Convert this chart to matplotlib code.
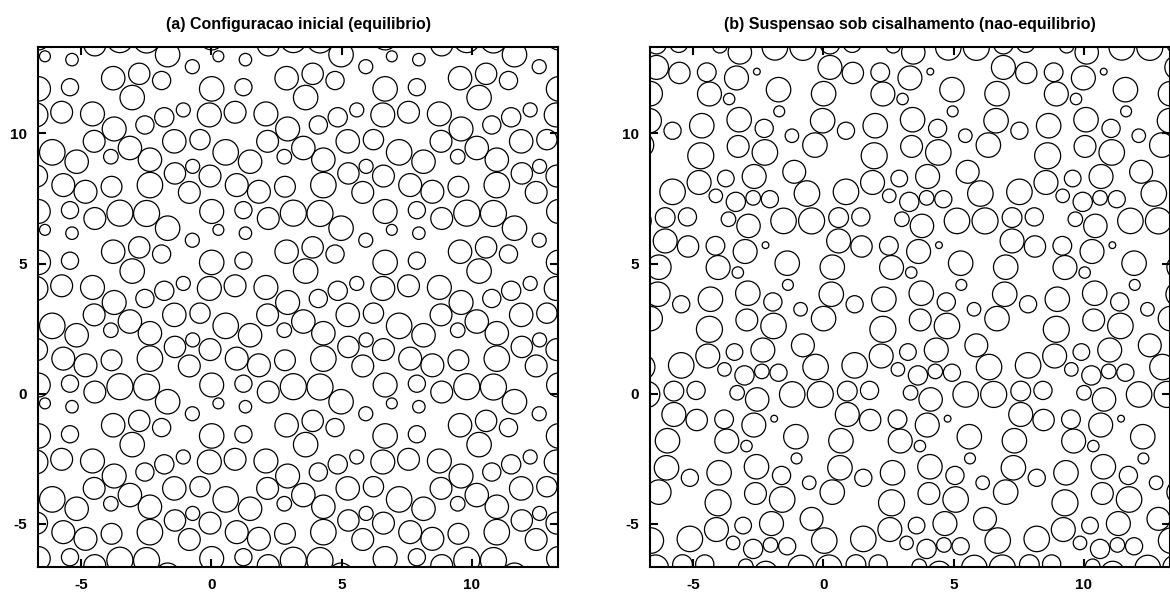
import matplotlib
matplotlib.use("Agg")
import matplotlib.pyplot as plt
from matplotlib import font_manager
from matplotlib.patches import Circle
from matplotlib.collections import PatchCollection

# periodic cell size and Lees-Edwards offset between image rows (panel b)
L = 20.0 / 3.0
shear_shift = 0.333

# (a) particles of one periodic cell (x, y, radius)
eq_x = [-3.776, -2.775, -1.915, -3.045, 0.010, 1.230, -4.572, -3.738, -2.557, -1.812,
        -1.081, -0.080, 0.909, -4.508, -3.866, -3.134, -2.364, -1.427, -0.439, 0.549,
        1.486, -4.841, -3.840, -2.364, -1.402, -0.721, -0.850, -0.054, 0.973, -4.482,
        -3.519, -2.493, -1.684, 0.010, 1.230, -0.734, 0.267, 1.307]
eq_y = [12.124, 12.291, 12.034, 11.380, 11.713, 11.778, 10.751, 10.173, 10.327, 10.622,
        10.905, 10.712, 10.815, 9.698, 9.108, 9.442, 8.992, 9.698, 9.763, 9.275,
        8.915, 7.760, 7.953, 8.017, 8.466, 8.736, 7.735, 8.364, 8.017, 6.733,
        6.939, 6.926, 6.361, 7.003, 7.054, 5.899, 6.297, 6.169]
eq_r = [0.45, 0.41, 0.35, 0.47, 0.47, 0.33, 0.46, 0.46, 0.35, 0.37,
        0.27, 0.46, 0.42, 0.42, 0.28, 0.45, 0.45, 0.45, 0.39, 0.49,
        0.45, 0.44, 0.40, 0.49, 0.41, 0.27, 0.42, 0.42, 0.44, 0.42,
        0.50, 0.50, 0.47, 0.46, 0.33, 0.27, 0.21, 0.24]

# (b) particles of one periodic cell under shear
sh_x = [-5.536, -4.484, -3.342, -2.559, -4.381, -3.624, -1.725, 0.007, -1.699, -4.676,
        -3.239, -2.277, -1.212, -0.031, 0.867, -3.278, -2.251, -0.327, -4.715, -3.752,
        -2.662, -1.122, -4.779, -4.137, -3.367, -2.700, -2.059, -0.634, 0.867, -5.228,
        -3.650, -2.880, -1.533, -0.455, 0.584, 0.584]
sh_y = [12.325, 12.351, 12.132, 12.376, 11.517, 11.324, 11.683, 11.529, 10.849, 10.298,
        10.529, 10.195, 9.913, 10.490, 10.105, 9.502, 9.271, 9.554, 9.143, 8.270,
        8.347, 8.527, 8.117, 7.603, 7.372, 7.526, 7.475, 7.693, 7.757, 6.795,
        6.705, 6.449, 6.641, 6.641, 6.769, 5.871]
sh_r = [0.41, 0.36, 0.46, 0.13, 0.46, 0.22, 0.47, 0.47, 0.21, 0.47,
        0.47, 0.35, 0.26, 0.47, 0.33, 0.42, 0.49, 0.47, 0.50, 0.32,
        0.46, 0.44, 0.46, 0.26, 0.37, 0.28, 0.33, 0.49, 0.49, 0.35,
        0.28, 0.45, 0.49, 0.50, 0.38, 0.46]

ticks = [-5, 0, 5, 10]
titles = ["(a) Configuracao inicial (equilibrio)",
          "(b) Suspensao sob cisalhamento (nao-equilibrio)"]

plt.rcParams['font.family'] = ['Liberation Sans', 'DejaVu Sans']
plt.rcParams['axes.unicode_minus'] = False

installed = {f.name for f in font_manager.fontManager.ttflist}
title_font = 'Liberation Sans Narrow' if 'Liberation Sans Narrow' in installed else 'Liberation Sans'


def draw_cell(ax, xs, ys, rs, shift):
    # repeat the cell over the periodic images that fall in the window
    lo, hi = -L, 2 * L
    patches = []
    for i in range(-3, 4):
        for j in range(-3, 3):
            for x, y, r in zip(xs, ys, rs):
                cx = x + i * L - j * shift
                cy = y + j * L
                if lo - r < cx < hi + r and lo - r < cy < hi + r:
                    patches.append(Circle((cx, cy), r))
    pc = PatchCollection(patches, facecolor='none', edgecolor='black', linewidth=0.9)
    ax.add_collection(pc)


fig = plt.figure(figsize=(11.7, 5.92), dpi=100)
W, H = 1170.0, 592.0
ax1 = fig.add_axes([38 / W, 1 - 567.3 / H, 520.3 / W, 520.6 / H])
ax2 = fig.add_axes([650 / W, 1 - 567.3 / H, 520.3 / W, 520.6 / H])

draw_cell(ax1, eq_x, eq_y, eq_r, 0.0)
draw_cell(ax2, sh_x, sh_y, sh_r, shear_shift)

for ax, title in zip([ax1, ax2], titles):
    ax.set_xlim(-L, 2 * L)
    ax.set_ylim(-L, 2 * L)
    ax.set_xticks(ticks)
    ax.set_yticks(ticks)
    ax.tick_params(direction='in', length=6, width=1.5, top=True, right=True,
                   labelsize=11, pad=8)
    for lbl in ax.get_xticklabels() + ax.get_yticklabels():
        lbl.set_fontweight('bold')
    for sp in ax.spines.values():
        sp.set_linewidth(1.5)
    ax.set_title(title, fontsize=11.5, fontweight='bold', family=title_font, pad=12.5)

fig.savefig("out.png", dpi=100)
